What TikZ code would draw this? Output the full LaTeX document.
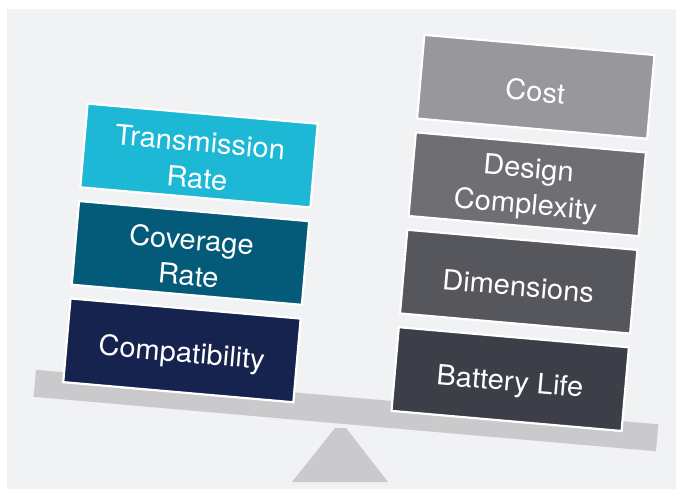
\documentclass[tikz,border=0pt]{standalone}
\usepackage{fontspec}
\setmainfont[FakeStretch=1.04]{TeX Gyre Heros}
\definecolor{bgc}{HTML}{F1F2F4}
\definecolor{plankc}{HTML}{CACACD}
\definecolor{ctrans}{HTML}{1CB8D6}
\definecolor{ccover}{HTML}{035B79}
\definecolor{ccompat}{HTML}{16234F}
\definecolor{ccost}{HTML}{98979B}
\definecolor{cdesign}{HTML}{6E6E73}
\definecolor{cdim}{HTML}{56565D}
\definecolor{cbatt}{HTML}{3C3F48}
\begin{document}
\begin{tikzpicture}[x=1pt,y=1pt,
  box/.style={minimum width=231pt,minimum height=84pt,inner sep=0pt,outer sep=0pt,
    anchor=north west,draw=white,line width=2.2pt},
  lbl/.style={text=white,align=center,inner sep=0pt,
    font=\fontsize{28}{36}\selectfont}]
\useasboundingbox (0,0) rectangle (676,-489);
\fill[bgc] (7,-9) rectangle (676,-489);
% fulcrum
\fill[plankc] (292,-482) -- (388,-482) -- (346,-428) -- (335,-428) -- cycle;
\begin{scope}[shift={(71,-299)},rotate=-5,transform shape]
  \fill[plankc] (-28.7,-73.6) rectangle (596,-100.7);
  \node[box,fill=ccompat] (compat) at (-0.5,0.5) {};
  \node[box,fill=ccover] (cover) at (-0.5,98.3) {};
  \node[box,fill=ctrans] (trans) at (-0.5,196.1) {};
  \node[box,fill=cbatt] (batt) at (329,0.5) {};
  \node[box,fill=cdim] (dim) at (329,98.3) {};
  \node[box,fill=cdesign] (design) at (329,196.1) {};
  \node[box,fill=ccost] (cost) at (329,293.9) {};
  \node[lbl] (compat-t) at ([yshift=-4.5pt]compat.center) {Compatibility};
  \node[lbl] (cover-t) at ([yshift=-4.5pt]cover.center) {Coverage\\Rate};
  \node[lbl] (trans-t) at ([yshift=-4.5pt]trans.center) {Transmission\\Rate};
  \node[lbl] (batt-t) at ([yshift=-4.5pt]batt.center) {Battery Life};
  \node[lbl] (dim-t) at ([yshift=-4.5pt]dim.center) {Dimensions};
  \node[lbl] (design-t) at ([yshift=-4.5pt]design.center) {Design\\Complexity};
  \node[lbl] (cost-t) at ([yshift=-4.5pt]cost.center) {Cost};
\end{scope}
\end{tikzpicture}
\end{document}
